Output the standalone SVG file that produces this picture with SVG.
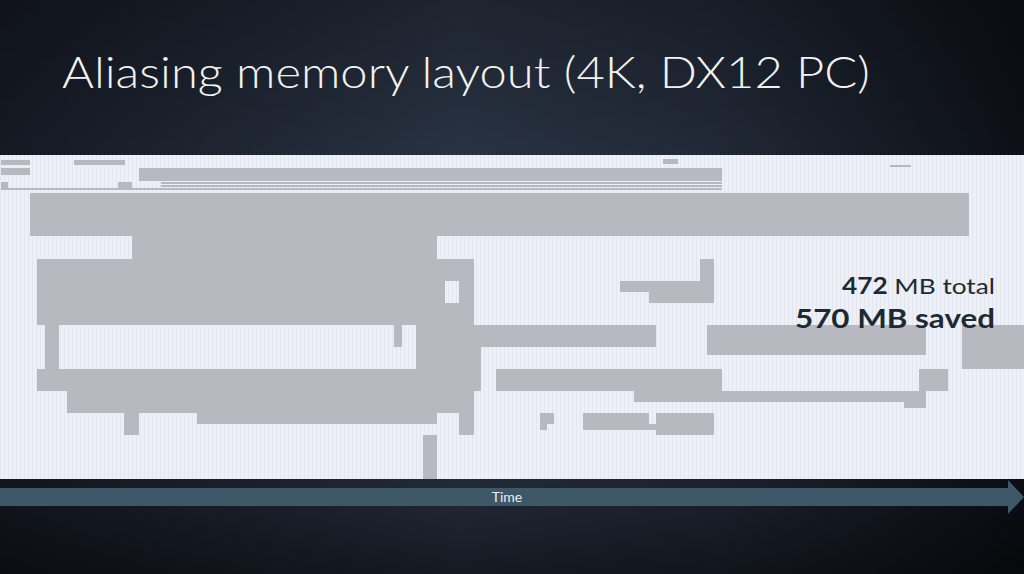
<svg xmlns="http://www.w3.org/2000/svg" width="1024" height="574" viewBox="0 0 1024 574">
<defs>
<linearGradient id="bg" x1="0" y1="0" x2="1" y2="0">
<stop offset="0" stop-color="#151a24"/><stop offset="0.45" stop-color="#2a3444"/><stop offset="0.7" stop-color="#222a38"/><stop offset="1" stop-color="#0d1017"/>
</linearGradient>
<linearGradient id="bgv" x1="0" y1="0" x2="0" y2="1">
<stop offset="0" stop-color="#000" stop-opacity="0.3"/><stop offset="0.3" stop-color="#000" stop-opacity="0"/><stop offset="0.85" stop-color="#000" stop-opacity="0.2"/><stop offset="1" stop-color="#000" stop-opacity="0.5"/>
</linearGradient>
<pattern id="stripes" width="4" height="10" patternUnits="userSpaceOnUse"><rect width="4" height="10" fill="#eef0f7"/><rect width="1" height="10" fill="#e3e6ee"/></pattern>
<style>
.b{fill:#b8b8c1}
.t{font-family:"Lato","DejaVu Sans",sans-serif}
</style>
</defs>
<rect width="1024" height="574" fill="url(#bg)"/>
<rect width="1024" height="574" fill="url(#bgv)"/>
<text class="t" x="62" y="88" font-size="44" font-weight="300" fill="#f2f2f2" textLength="808" lengthAdjust="spacingAndGlyphs">Aliasing memory layout (4K, DX12 PC)</text>
<rect x="0" y="155" width="1024" height="324" fill="url(#stripes)"/>
<g id="blocks">
<rect class="b" x="1" y="160" width="29" height="5"/>
<rect class="b" x="74" y="160" width="51" height="5"/>
<rect class="b" x="663" y="159" width="15" height="5"/>
<rect class="b" x="890" y="165" width="21" height="2"/>
<rect class="b" x="1" y="168" width="29" height="7"/>
<rect class="b" x="139" y="168" width="583" height="13"/>
<rect class="b" x="161" y="182" width="561" height="2"/>
<rect class="b" x="161" y="185" width="561" height="2"/>
<rect class="b" x="1" y="182" width="7" height="6"/>
<rect class="b" x="118" y="182" width="14" height="6"/>
<rect class="b" x="1" y="188" width="721" height="2"/>
<rect class="b" x="30" y="193" width="939" height="43"/>
<rect class="b" x="132" y="236" width="305" height="23"/>
<path class="b" d="M37 259H474V325H37Z M445 281V303H459V281Z" fill-rule="evenodd"/>
<rect class="b" x="45" y="325" width="14" height="44"/>
<rect class="b" x="394" y="325" width="8" height="22"/>
<rect class="b" x="416" y="325" width="65" height="44"/>
<rect class="b" x="416" y="325" width="240" height="22"/>
<rect class="b" x="37" y="369" width="444" height="22"/>
<rect class="b" x="67" y="391" width="407" height="22"/>
<rect class="b" x="124" y="413" width="15" height="22"/>
<rect class="b" x="197" y="413" width="240" height="11"/>
<rect class="b" x="459" y="413" width="15" height="22"/>
<rect class="b" x="423" y="435" width="14" height="44"/>
<rect class="b" x="700" y="259" width="14" height="44"/>
<rect class="b" x="620" y="281" width="94" height="11"/>
<rect class="b" x="649" y="292" width="65" height="11"/>
<rect class="b" x="707" y="325" width="219" height="30"/>
<rect class="b" x="962" y="325" width="62" height="44"/>
<rect class="b" x="496" y="369" width="226" height="22"/>
<rect class="b" x="634" y="391" width="292" height="11"/>
<rect class="b" x="919" y="369" width="29" height="22"/>
<rect class="b" x="904" y="391" width="22" height="17"/>
<path class="b" d="M540 413H554V424H547V430H540Z"/>
<rect class="b" x="583" y="413" width="66" height="17"/>
<rect class="b" x="649" y="424" width="7" height="6"/>
<rect class="b" x="656" y="413" width="58" height="22"/>
</g>
<g id="stats" class="t" text-anchor="end" fill="#1e2a33">
<text x="995" y="294" font-size="22" textLength="153" lengthAdjust="spacingAndGlyphs"><tspan font-weight="bold">472</tspan> MB total</text>
<text x="995" y="328" font-size="27" font-weight="bold" textLength="200" lengthAdjust="spacingAndGlyphs">570 MB saved</text>
</g>
<g id="time">
<path d="M0 488H1008V480L1024 497L1008 514V506H0Z" fill="#3e5868"/>
<text class="t" x="507" y="502" font-size="14" fill="#e8eef2" text-anchor="middle">Time</text>
</g>
</svg>
